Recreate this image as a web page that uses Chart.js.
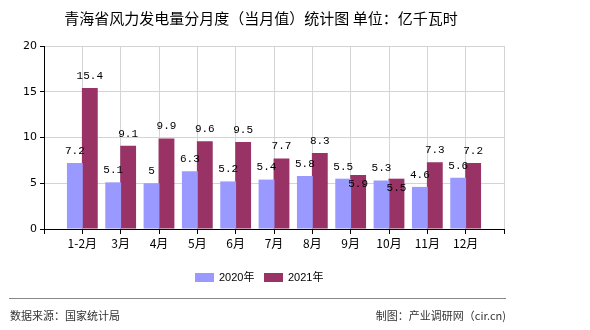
<!DOCTYPE html>
<html>
<head>
<meta charset="utf-8">
<script src="https://cdn.jsdelivr.net/npm/chart.js@4/dist/chart.umd.min.js"></script>
<style>
  html, body { margin: 0; padding: 0; background: #fff; }
  #wrap { width: 590px; height: 330px; position: relative; }
</style>
</head>
<body>
<div id="wrap"><canvas id="c" width="590" height="330"></canvas></div>
<script>
// 数据
const months = ['1-2月', '3月', '4月', '5月', '6月', '7月', '8月', '9月', '10月', '11月', '12月'];
const values2020 = [7.2, 5.1, 5, 6.3, 5.2, 5.4, 5.8, 5.5, 5.3, 4.6, 5.6];
const values2021 = [15.4, 9.1, 9.9, 9.6, 9.5, 7.7, 8.3, 5.9, 5.5, 7.3, 7.2];
const yTicks = [0, 5, 10, 15, 20];

const titleText = '青海省风力发电量分月度（当月值）统计图 单位：亿千瓦时';
const sourceText = '数据来源：国家统计局';
const makerText = '制图：产业调研网（cir.cn)';

const CJK = '"Noto Sans CJK SC", "DejaVu Sans", sans-serif';

// 两端各留一个空位，使刻度落在格线上
const labels = [''].concat(months, ['']);
const pad = arr => [null].concat(arr, [null]);

// 标签、标题、图例、页脚
const decorPlugin = {
    id: 'decor',
    afterDatasetsDraw(chart) {
        const ctx = chart.ctx;
        const m0 = chart.getDatasetMeta(0);
        const m1 = chart.getDatasetMeta(1);
        ctx.save();
        ctx.font = '11px "Liberation Mono", monospace';
        ctx.fillStyle = '#000';
        ctx.textAlign = 'center';
        ctx.textBaseline = 'middle';
        for (let i = 1; i <= months.length; i++) {
            const a = m0.data[i], b = m1.data[i];
            const va = values2020[i - 1], vb = values2021[i - 1];
            ctx.fillText(String(va), a.x, a.y - 12);
            // 数值太接近时把第二个标签放进柱子里
            const yb = Math.abs(vb - va) < 1 ? b.y + 9 : b.y - 12;
            ctx.fillText(String(vb), b.x, yb);
        }
        ctx.restore();
    },
    afterDraw(chart) {
        const ctx = chart.ctx;
        ctx.save();
        ctx.textBaseline = 'middle';

        ctx.font = '15px ' + CJK;
        ctx.fillStyle = '#000';
        ctx.textAlign = 'center';
        ctx.fillText(titleText, 261, 18);

        // 图例
        const ds = chart.data.datasets;
        const legendX = [195, 264];
        ctx.font = '11px "Liberation Sans", ' + CJK;
        ctx.textAlign = 'left';
        ds.forEach((d, i) => {
            ctx.fillStyle = d.backgroundColor;
            ctx.fillRect(legendX[i], 273, 19, 9);
            ctx.fillStyle = '#000';
            ctx.fillText(d.label, legendX[i] + 24, 277.5);
        });

        // 页脚
        ctx.strokeStyle = '#888';
        ctx.lineWidth = 1;
        ctx.beginPath();
        ctx.moveTo(9, 298.5);
        ctx.lineTo(506, 298.5);
        ctx.stroke();

        ctx.font = '11px ' + CJK;
        ctx.fillStyle = '#333';
        ctx.textAlign = 'left';
        ctx.fillText(sourceText, 10, 316);
        ctx.textAlign = 'right';
        ctx.fillText(makerText, 506, 316);
        ctx.restore();
    }
};

new Chart(document.getElementById('c'), {
    type: 'bar',
    data: {
        labels: labels,
        datasets: [
            { label: '2020年', data: pad(values2020), backgroundColor: '#9999ff', borderWidth: 0 },
            { label: '2021年', data: pad(values2021), backgroundColor: '#993366', borderWidth: 0 }
        ]
    },
    options: {
        responsive: false,
        animation: false,
        layout: { padding: { top: 46, left: 0, right: 86, bottom: 71 } },
        // 柱子略宽于分配宽度，两柱之间不留缝
        datasets: { bar: { categoryPercentage: 0.78, barPercentage: 1.06 } },
        plugins: {
            legend: { display: false },
            title: { display: false },
            tooltip: { enabled: false }
        },
        scales: {
            x: {
                offset: false,
                grid: { offset: false, color: '#d4d4d4', tickColor: '#000', tickLength: 5 },
                border: { color: '#000' },
                ticks: {
                    autoSkip: false,
                    maxRotation: 0,
                    padding: 2,
                    color: '#000',
                    font: { family: CJK, size: 12 }
                },
                afterFit(scale) { scale.height = 30; }
            },
            y: {
                min: 0,
                max: 20,
                afterBuildTicks(scale) { scale.ticks = yTicks.map(v => ({ value: v })); },
                grid: { color: '#d4d4d4', tickColor: '#000', tickLength: 4 },
                border: { color: '#000' },
                ticks: {
                    padding: 3,
                    color: '#000',
                    font: { family: '"DejaVu Sans", sans-serif', size: 11 }
                },
                afterFit(scale) { scale.width = 44; }
            }
        }
    },
    plugins: [decorPlugin]
});
</script>
</body>
</html>
